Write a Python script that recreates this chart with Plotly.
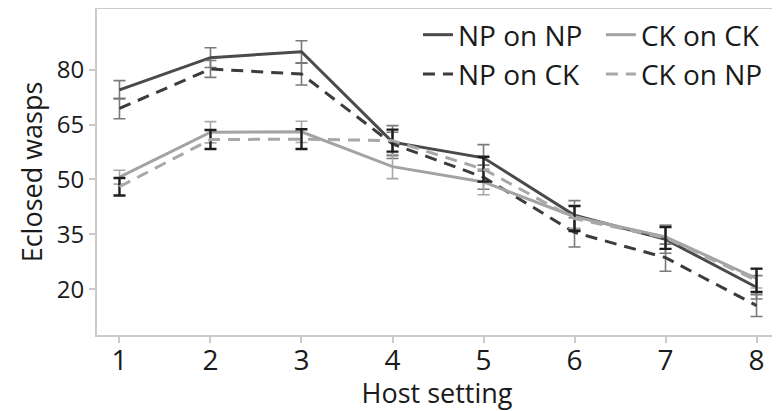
import plotly.graph_objects as go

host_setting = [1, 2, 3, 4, 5, 6, 7, 8]
tick_vals_y = [20, 35, 50, 65, 80]

np_on_np = [74.5, 83.3, 84.9, 60.2, 55.9, 40.2, 33.6, 20.5]
np_on_np_err = [2.5, 2.7, 3.0, 4.5, 3.6, 4.0, 3.8, 3.2]

np_on_ck = [69.4, 80.2, 78.8, 59.7, 50.6, 35.5, 28.6, 15.5]
np_on_ck_err = [2.8, 2.3, 3.0, 3.2, 3.3, 4.0, 3.7, 3.0]

ck_on_ck = [50.6, 62.9, 63.0, 53.5, 49.3, 39.8, 34.3, 22.9]
ck_on_ck_err = [1.9, 2.9, 2.9, 3.3, 3.5, 3.2, 3.3, 2.6]

ck_on_np = [48.0, 60.9, 61.0, 60.6, 52.8, 39.3, 34.0, 22.4]
ck_on_np_err = [2.4, 2.6, 2.7, 3.0, 3.4, 3.4, 3.0, 3.2]

FONT = "Open Sans"

fig = go.Figure()

def add(name, y, err, color, dash, ecolor, ethick, legend):
    fig.add_trace(go.Scatter(
        x=host_setting, y=y, name=name, mode="lines",
        line=dict(color=color, width=3, dash=dash),
        error_y=dict(type="data", array=err, visible=True, color=ecolor,
                     thickness=ethick, width=6),
        legend=legend,
    ))

add("NP on NP", np_on_np, np_on_np_err, "#4a4a4a", "solid", "#7a7a7a", 1.6, "legend")
add("NP on CK", np_on_ck, np_on_ck_err, "#3c3c3c", "12px,8px", "#7a7a7a", 1.6, "legend")
add("CK on CK", ck_on_ck, ck_on_ck_err, "#a3a3a3", "solid", "#a8a8a8", 1.6, "legend2")
add("CK on NP", ck_on_np, ck_on_np_err, "#a8a8a8", "12px,8px", "#1e1e1e", 2.4, "legend2")

axis_common = dict(
    showgrid=False, zeroline=False, showline=True, mirror=True,
    linecolor="#cbcbcb", linewidth=2, ticks="outside", ticklen=6,
    tickcolor="#cbcbcb", tickwidth=2, automargin=False,
)

# the page body keeps its default 8px margin, so the figure is sized to fit the window
fig.update_layout(
    width=772, height=403,
    margin=dict(l=89, r=3, t=1, b=76),
    plot_bgcolor="white", paper_bgcolor="white",
    font=dict(family=FONT, color="#1a1a1a"),
    xaxis=dict(range=[0.753, 8.225], tickvals=host_setting,
               tickfont=dict(size=28, family=FONT), ticklabelstandoff=-7,
               title=dict(text="Host setting", font=dict(size=27, family=FONT), standoff=0),
               **axis_common),
    yaxis=dict(range=[7.45, 96.6], tickvals=tick_vals_y,
               tickfont=dict(size=24, family=FONT),
               title=dict(text="Eclosed wasps", font=dict(size=27, family=FONT), standoff=6),
               **axis_common),
    legend=dict(x=0.472, y=0.997, xanchor="left", yanchor="top",
                bgcolor="rgba(0,0,0,0)", font=dict(size=28, family=FONT),
                tracegroupgap=0, itemwidth=30),
    legend2=dict(x=0.741, y=0.997, xanchor="left", yanchor="top",
                 bgcolor="rgba(0,0,0,0)", font=dict(size=28, family=FONT),
                 tracegroupgap=0, itemwidth=30),
    showlegend=True,
)

fig.write_html("out.html")
